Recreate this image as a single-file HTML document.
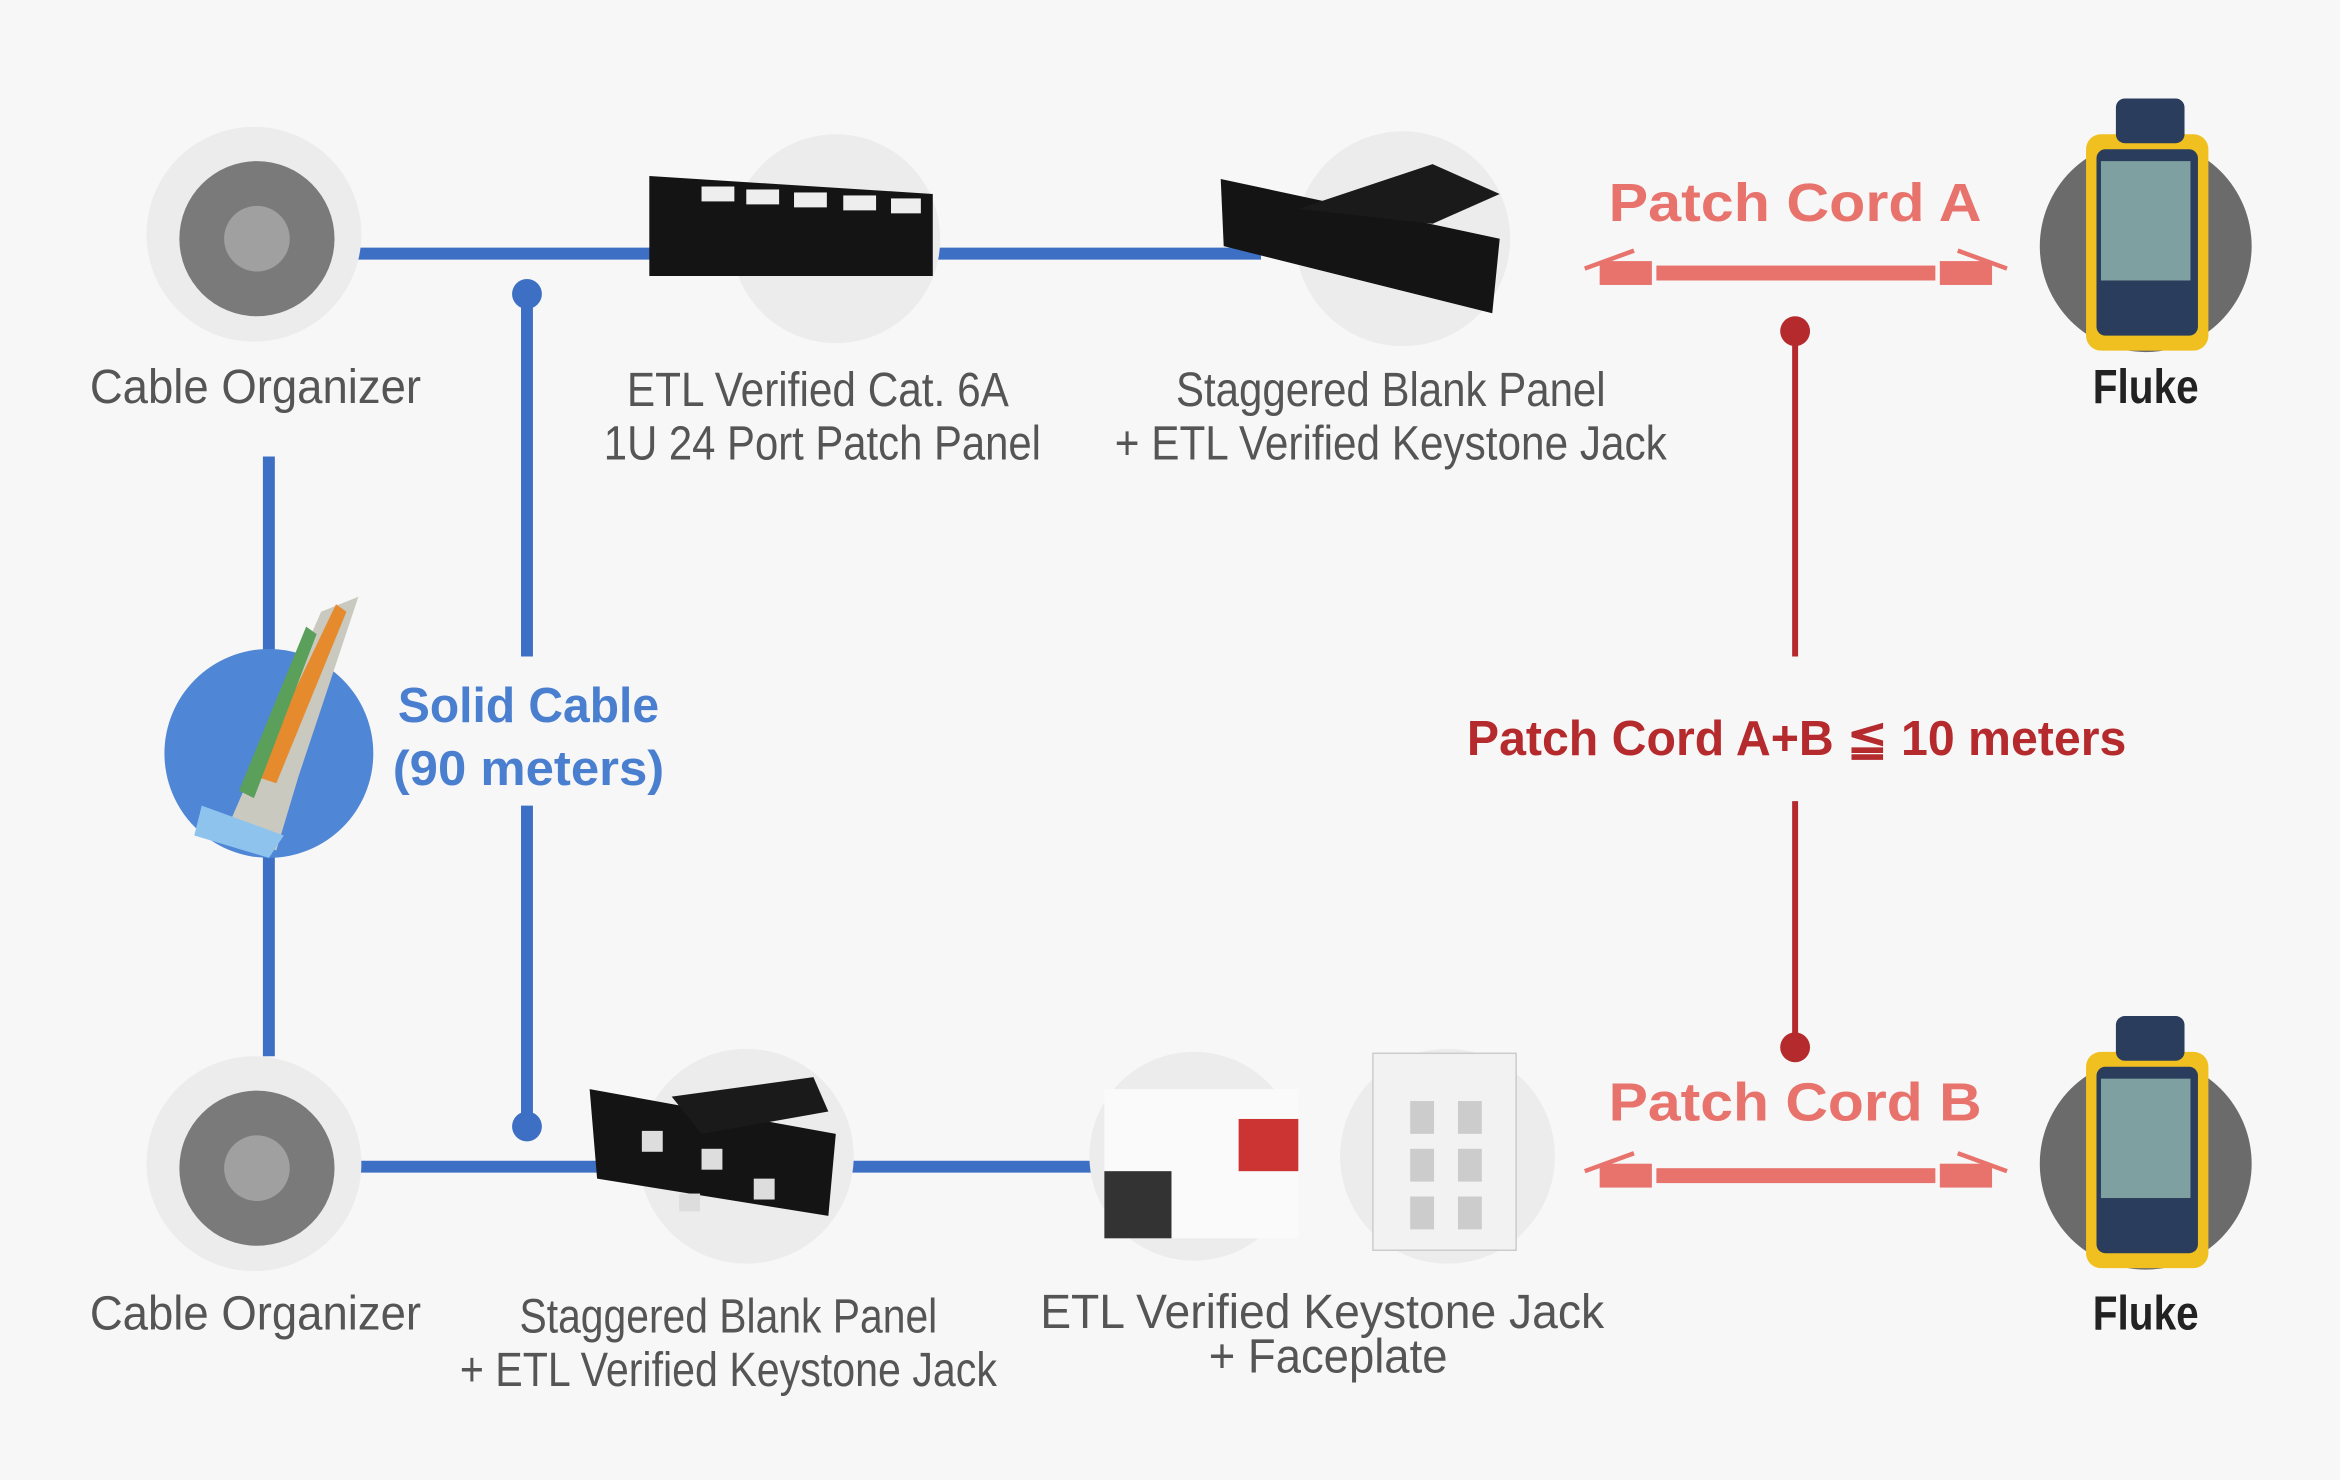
<!DOCTYPE html>
<html><head><meta charset="utf-8"><style>
html,body{margin:0;padding:0;background:#f7f7f7;}
svg{display:block;}
.lbl{font-family:"Liberation Sans",sans-serif;fill:#555;font-size:32px;text-anchor:middle;}
</style></head><body>
<svg width="2340" height="1480" viewBox="0 0 1568 992" xmlns="http://www.w3.org/2000/svg">
<rect width="1568" height="992" fill="#f7f7f7"/>
<g stroke="#3d70c4" stroke-width="8" fill="none">
<line x1="235" y1="170" x2="845" y2="170"/>
<line x1="235" y1="782" x2="740" y2="782"/>
<line x1="180" y1="306" x2="180" y2="708"/>
<line x1="353" y1="197" x2="353" y2="440"/>
<line x1="353" y1="540" x2="353" y2="755"/>
</g>
<circle cx="353" cy="197" r="10" fill="#3d70c4"/>
<circle cx="353" cy="755" r="10" fill="#3d70c4"/>
<g stroke="#b52a2d" stroke-width="4">
<line x1="1203" y1="222" x2="1203" y2="440"/>
<line x1="1203" y1="537" x2="1203" y2="702"/>
</g>
<circle cx="1203" cy="222" r="10" fill="#b52a2d"/>
<circle cx="1203" cy="702" r="10" fill="#b52a2d"/>
<g fill="#ececec">
<circle cx="170" cy="157" r="72"/><circle cx="170" cy="780" r="72"/>
<circle cx="560" cy="160" r="70"/><circle cx="940" cy="160" r="72"/>
<circle cx="500" cy="775" r="72"/><circle cx="800" cy="775" r="70"/><circle cx="970" cy="775" r="72"/>
</g>
<g fill="#7a7a7a">
<circle cx="172" cy="160" r="52"/><circle cx="172" cy="783" r="52"/>
</g>
<g fill="#a0a0a0"><circle cx="172" cy="160" r="22"/><circle cx="172" cy="783" r="22"/></g>
<circle cx="180" cy="505" r="70" fill="#4f86d6"/>
<path d="M150 560 L215 410 L240 400 L200 520 L185 570 Z" fill="#c9c9c0"/>
<path d="M170 520 L225 405 L232 410 L185 525 Z" fill="#e68a2e"/>
<path d="M160 530 L205 420 L212 425 L170 535 Z" fill="#5aa05a"/>
<path d="M135 540 L190 560 L180 575 L130 560 Z" fill="#8ec3ee"/>
<path d="M435 118 L625 130 L625 185 L435 185 Z" fill="#141414"/>
<g fill="#eee"><rect x="470" y="125" width="22" height="10"/><rect x="500" y="127" width="22" height="10"/><rect x="532" y="129" width="22" height="10"/><rect x="565" y="131" width="22" height="10"/><rect x="597" y="133" width="20" height="10"/></g>
<path d="M818 120 L1005 160 L1000 210 L820 165 Z" fill="#141414"/>
<path d="M870 140 L960 110 L1005 130 L960 150 Z" fill="#1a1a1a"/>
<path d="M395 730 L560 760 L555 815 L400 790 Z" fill="#141414"/>
<path d="M450 735 L545 722 L555 745 L470 760 Z" fill="#1a1a1a"/>
<g fill="#ddd"><rect x="430" y="758" width="14" height="14"/><rect x="470" y="770" width="14" height="14"/><rect x="455" y="800" width="14" height="12"/><rect x="505" y="790" width="14" height="14"/></g>
<rect x="740" y="730" width="130" height="100" fill="#fafafa"/>
<rect x="740" y="785" width="45" height="45" fill="#333"/>
<rect x="830" y="750" width="40" height="35" fill="#c33"/>
<rect x="920" y="706" width="96" height="132" fill="#f2f2f2" stroke="#ccc"/>
<g fill="#ccc"><rect x="945" y="738" width="16" height="22"/><rect x="977" y="738" width="16" height="22"/><rect x="945" y="770" width="16" height="22"/><rect x="977" y="770" width="16" height="22"/><rect x="945" y="802" width="16" height="22"/><rect x="977" y="802" width="16" height="22"/></g>
<g>
<circle cx="1438" cy="165" r="71" fill="#6b6b6b"/>
<rect x="1398" y="90" width="82" height="145" rx="10" fill="#f0c020"/>
<rect x="1405" y="100" width="68" height="125" rx="6" fill="#2b3d5c"/>
<rect x="1408" y="108" width="60" height="80" fill="#7fa0a0"/>
<rect x="1418" y="66" width="46" height="30" rx="6" fill="#2b3d5c"/>
<circle cx="1438" cy="780" r="71" fill="#6b6b6b"/>
<rect x="1398" y="705" width="82" height="145" rx="10" fill="#f0c020"/>
<rect x="1405" y="715" width="68" height="125" rx="6" fill="#2b3d5c"/>
<rect x="1408" y="723" width="60" height="80" fill="#7fa0a0"/>
<rect x="1418" y="681" width="46" height="30" rx="6" fill="#2b3d5c"/>
</g>
<g fill="#e8736d">
<rect x="1110" y="178" width="187" height="10"/>
<rect x="1072" y="175" width="35" height="16"/><rect x="1300" y="175" width="35" height="16"/>
<rect x="1110" y="783" width="187" height="10"/>
<rect x="1072" y="780" width="35" height="16"/><rect x="1300" y="780" width="35" height="16"/>
</g>
<g stroke="#e8736d" stroke-width="3"><line x1="1062" y1="180" x2="1095" y2="168"/><line x1="1345" y1="180" x2="1312" y2="168"/><line x1="1062" y1="785" x2="1095" y2="773"/><line x1="1345" y1="785" x2="1312" y2="773"/></g>
<g font-family="Liberation Sans,sans-serif" font-weight="bold" text-anchor="middle">
<text x="1203" y="148" font-size="36" fill="#e8736d" textLength="250" lengthAdjust="spacingAndGlyphs">Patch Cord A</text>
<text x="1203" y="751" font-size="36" fill="#e8736d" textLength="250" lengthAdjust="spacingAndGlyphs">Patch Cord B</text>
<text x="1204" y="506" font-size="33" fill="#b52a2d" textLength="442" lengthAdjust="spacingAndGlyphs">Patch Cord A+B ≦ 10 meters</text>
<text x="354" y="484" font-size="33" fill="#4a7fd0" textLength="175" lengthAdjust="spacingAndGlyphs">Solid Cable</text>
<text x="354" y="526" font-size="33" fill="#4a7fd0" textLength="182" lengthAdjust="spacingAndGlyphs">(90 meters)</text>
</g>
<g>
<text class="lbl" x="171" y="270" textLength="222" lengthAdjust="spacingAndGlyphs">Cable Organizer</text>
<text class="lbl" x="171" y="891" textLength="222" lengthAdjust="spacingAndGlyphs">Cable Organizer</text>
<text class="lbl" x="548" y="272" textLength="256" lengthAdjust="spacingAndGlyphs">ETL Verified Cat. 6A</text>
<text class="lbl" x="551" y="308" textLength="293" lengthAdjust="spacingAndGlyphs">1U 24 Port Patch Panel</text>
<text class="lbl" x="932" y="272" textLength="288" lengthAdjust="spacingAndGlyphs">Staggered Blank Panel</text>
<text class="lbl" x="932" y="308" textLength="370" lengthAdjust="spacingAndGlyphs">+ ETL Verified Keystone Jack</text>
<text class="lbl" x="488" y="893" textLength="280" lengthAdjust="spacingAndGlyphs">Staggered Blank Panel</text>
<text class="lbl" x="488" y="929" textLength="360" lengthAdjust="spacingAndGlyphs">+ ETL Verified Keystone Jack</text>
<text class="lbl" x="886" y="890" textLength="378" lengthAdjust="spacingAndGlyphs">ETL Verified Keystone Jack</text>
<text class="lbl" x="890" y="920" textLength="160" lengthAdjust="spacingAndGlyphs">+ Faceplate</text>
<text class="lbl" x="1438" y="270" style="fill:#222;font-weight:bold" textLength="71" lengthAdjust="spacingAndGlyphs">Fluke</text>
<text class="lbl" x="1438" y="891" style="fill:#222;font-weight:bold" textLength="71" lengthAdjust="spacingAndGlyphs">Fluke</text>
</g>
</svg>
</body></html>
